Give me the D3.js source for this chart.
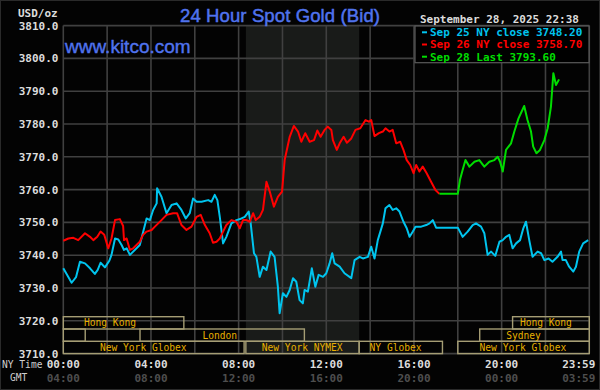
<!DOCTYPE html>
<html>
<head>
<meta charset="utf-8">
<script src="https://cdn.jsdelivr.net/npm/d3@7"></script>
<style>
  body { margin: 0; background: #000; }
  svg { display: block; }
</style>
</head>
<body>
<svg id="chart" width="600" height="390"></svg>
<script>
// price ticks (USD/oz) and time ticks (hours, NY time)
const priceTicks = d3.range(3710, 3811, 10);
const gridHours = d3.range(0, 25, 2);
const labelHours = [0, 4, 8, 12, 16, 20, 24];
const nyLabels = ["00:00", "04:00", "08:00", "12:00", "16:00", "20:00", "23:59"];
const gmtLabels = ["04:00", "08:00", "12:00", "16:00", "20:00", "00:00", "03:59"];

// [hour of NY day, bid]
const sep25 = [[0,3736.0],[0.38,3731.6],[0.58,3733.3],[0.76,3738.0],[0.99,3737.5],[1.22,3736.0],[1.44,3734.3],[1.57,3735.5],[1.70,3737.7],[1.90,3736.3],[2.10,3738.3],[2.20,3740.1],[2.36,3745.1],[2.51,3744.8],[2.66,3743.1],[2.77,3741.6],[2.89,3742.1],[3.04,3740.1],[3.49,3743.1],[3.80,3751.2],[3.95,3750.7],[4.10,3753.8],[4.26,3755.8],[4.28,3760.4],[4.48,3757.8],[4.71,3752.8],[4.94,3755.3],[5.17,3755.8],[5.39,3753.8],[5.59,3751.2],[5.77,3752.8],[5.92,3757.3],[6.08,3756.3],[6.31,3756.3],[6.61,3756.8],[6.76,3756.3],[6.91,3758.4],[7.03,3756.8],[7.14,3751.7],[7.29,3743.6],[7.44,3745.6],[7.67,3749.7],[7.90,3750.7],[8.13,3751.2],[8.28,3751.7],[8.46,3753.3],[8.55,3749.7],[8.70,3740.6],[8.81,3739.5],[8.96,3733.4],[9.11,3736.5],[9.27,3735.5],[9.46,3741.1],[9.64,3739.5],[9.79,3730.4],[9.87,3722.3],[10.02,3728.4],[10.18,3727.3],[10.33,3729.4],[10.48,3733.0],[10.63,3731.9],[10.78,3726.3],[10.93,3725.3],[11.01,3729.4],[11.16,3728.9],[11.34,3736.0],[11.50,3730.4],[11.65,3734.0],[11.85,3733.4],[12.00,3734.5],[12.15,3737.5],[12.27,3740.6],[12.38,3737.5],[12.61,3736.5],[12.83,3734.5],[13.14,3733.0],[13.29,3738.5],[13.52,3739.5],[13.67,3739.0],[13.90,3739.5],[14.05,3742.6],[14.20,3739.0],[14.35,3744.6],[14.58,3749.7],[14.70,3754.3],[14.88,3755.3],[15.03,3753.8],[15.19,3754.3],[15.34,3753.3],[15.52,3750.2],[15.67,3748.2],[15.80,3745.6],[15.95,3747.2],[16.07,3748.7],[16.33,3748.7],[16.56,3749.2],[16.71,3749.7],[16.86,3750.7],[17.01,3748.4],[18.00,3748.4],[18.22,3745.6],[18.45,3747.2],[18.68,3749.2],[18.83,3749.7],[19.06,3748.7],[19.21,3746.7],[19.36,3740.1],[19.52,3741.1],[19.71,3739.8],[19.90,3744.1],[20.05,3744.6],[20.20,3745.6],[20.35,3746.2],[20.50,3742.1],[20.66,3743.6],[20.84,3744.6],[20.99,3748.2],[21.11,3750.2],[21.26,3744.6],[21.41,3739.5],[21.64,3741.1],[21.80,3740.6],[21.95,3738.5],[22.14,3739.0],[22.32,3738.0],[22.55,3739.5],[22.71,3741.1],[22.78,3738.5],[22.93,3738.5],[23.08,3736.5],[23.27,3735.0],[23.39,3736.5],[23.54,3741.1],[23.72,3743.6],[23.95,3744.6]];

const sep26 = [[0,3744.4],[0.23,3745.1],[0.46,3745.3],[0.68,3744.6],[0.99,3746.7],[1.22,3745.6],[1.37,3744.6],[1.55,3745.6],[1.70,3747.2],[1.87,3746.2],[2.05,3742.1],[2.20,3745.1],[2.36,3750.7],[2.58,3751.0],[2.73,3748.9],[2.77,3744.6],[2.89,3745.1],[3.04,3741.6],[3.19,3742.1],[3.34,3743.1],[3.49,3744.1],[3.64,3746.2],[3.80,3747.2],[4.03,3747.7],[4.18,3748.7],[4.33,3749.7],[4.48,3750.7],[4.71,3752.3],[5.01,3752.8],[5.19,3752.8],[5.39,3749.2],[5.62,3747.7],[5.85,3748.7],[6.08,3751.7],[6.27,3752.3],[6.46,3749.2],[6.68,3746.7],[6.83,3743.8],[6.99,3744.1],[7.14,3745.1],[7.29,3747.2],[7.44,3749.2],[7.67,3750.7],[7.90,3750.2],[8.05,3748.2],[8.20,3750.7],[8.36,3750.7],[8.51,3750.2],[8.66,3752.8],[8.78,3750.7],[8.96,3751.7],[9.11,3753.8],[9.27,3762.4],[9.42,3759.4],[9.61,3754.8],[9.79,3757.8],[9.98,3759.4],[10.10,3769.0],[10.33,3776.1],[10.52,3779.4],[10.71,3777.7],[10.86,3774.6],[11.04,3777.2],[11.24,3774.6],[11.44,3775.1],[11.59,3778.0],[11.74,3776.1],[11.92,3778.2],[12.07,3779.2],[12.23,3778.2],[12.30,3775.1],[12.48,3772.1],[12.61,3774.1],[12.79,3776.1],[12.94,3774.3],[13.14,3775.6],[13.33,3778.2],[13.55,3778.7],[13.79,3781.2],[13.94,3780.7],[14.05,3781.2],[14.20,3776.3],[14.40,3777.2],[14.58,3777.7],[14.70,3778.7],[14.88,3777.7],[15.03,3778.2],[15.19,3774.1],[15.37,3774.6],[15.52,3772.1],[15.67,3769.0],[15.83,3767.5],[15.98,3765.0],[16.10,3767.5],[16.25,3765.5],[16.40,3767.0],[16.58,3765.0],[16.78,3762.4],[16.98,3759.9],[17.16,3758.7]];

const sep28 = [[17.16,3758.7],[18.00,3758.7],[18.10,3763.0],[18.22,3766.0],[18.35,3769.0],[18.53,3767.0],[18.76,3768.5],[18.98,3769.0],[19.21,3767.0],[19.44,3768.5],[19.67,3769.0],[19.82,3770.0],[19.93,3768.5],[20.05,3765.5],[20.20,3772.1],[20.43,3774.1],[20.58,3777.7],[20.77,3781.7],[21.03,3785.5],[21.18,3781.2],[21.34,3777.7],[21.44,3773.1],[21.59,3771.1],[21.75,3772.1],[21.95,3775.1],[22.10,3778.7],[22.25,3785.3],[22.36,3795.5],[22.48,3791.9],[22.62,3793.6]];

const legendLabels = ["Sep 25 NY close 3748.20", "Sep 26 NY close 3758.70", "Sep 28 Last 3793.60"];
const seriesColors = ["#00c4ee", "#ff0000", "#00dd00"];

// trading sessions: row, start hour, end hour, name, hour where the name sits
const sessions = [
  [0, 0, 5.5, "Hong Kong", 2.13],
  [0, 20.5, 24, "Hong Kong", 22.02],
  [1, 0, 1, "", 0.5],
  [1, 3.5, 11, "London", 7.14],
  [1, 19, 24, "Sydney", 21.0],
  [2, 0, 8.25, "New York Globex", 3.65],
  [2, 8.33, 13.5, "New York NYMEX", 10.9],
  [2, 13.5, 17.3, "NY Globex", 15.16],
  [2, 18, 24, "New York Globex", 20.97]
];
const pitHours = [8.33, 13.5];

const mono = "'DejaVu Sans Mono', monospace";
const svg = d3.select("#chart");

const x = d3.scaleLinear().domain([0, 24]).range([63.3, 589.3]);
const y = d3.scaleLinear().domain([3710, 3810]).range([353.6, 25.6]);

svg.append("rect").attr("width", 600).attr("height", 390).attr("fill", "#030303");
svg.append("rect").attr("x", 0.5).attr("y", 0.5).attr("width", 599).attr("height", 389)
  .attr("fill", "none").attr("stroke", "#2a2a2a");

// shaded pit session
svg.append("rect")
  .attr("x", x(pitHours[0])).attr("y", y(3810))
  .attr("width", x(pitHours[1]) - x(pitHours[0]))
  .attr("height", y(3710) - y(3810))
  .attr("fill", "#191b19");

// grid
svg.append("g").selectAll("line").data(priceTicks).enter().append("line")
  .attr("x1", x(0)).attr("x2", x(24))
  .attr("y1", d => y(d)).attr("y2", d => y(d))
  .attr("stroke", "#404040").attr("stroke-width", 1.6);
svg.append("g").selectAll("line").data(gridHours).enter().append("line")
  .attr("x1", d => x(d)).attr("x2", d => x(d))
  .attr("y1", y(3810)).attr("y2", y(3710))
  .attr("stroke", "#404040").attr("stroke-width", 1.6);

// sessions
const rowH = 12.3;
const rowTop = r => y(3710) - (3 - r) * rowH;
const sess = svg.append("g");
sess.selectAll("rect").data(sessions).enter().append("rect")
  .attr("x", d => x(d[1])).attr("y", d => rowTop(d[0]))
  .attr("width", d => x(d[2]) - x(d[1])).attr("height", rowH)
  .attr("fill", "none").attr("stroke", "#a59d74").attr("stroke-width", 1.4);
sess.selectAll("text").data(sessions).enter().append("text")
  .attr("x", d => x(d[4])).attr("y", d => rowTop(d[0]) + rowH / 2)
  .attr("dy", "0.36em").attr("text-anchor", "middle")
  .attr("font-family", mono).attr("font-size", 9.6).attr("fill", "#e8b000")
  .text(d => d[3]);

// price lines
const line = d3.line().x(d => x(d[0])).y(d => y(d[1]));
[sep25, sep26, sep28].forEach((s, i) => {
  svg.append("path").attr("d", line(s))
    .attr("fill", "none").attr("stroke", seriesColors[i])
    .attr("stroke-width", 2).attr("stroke-linejoin", "round");
});

// y labels
svg.append("g").selectAll("text").data(priceTicks).enter().append("text")
  .attr("x", 58.5).attr("y", d => y(d)).attr("dy", "0.36em")
  .attr("text-anchor", "end").attr("font-family", mono).attr("font-weight", "bold")
  .attr("font-size", 11).attr("fill", "#dcdcdc")
  .text(d => d3.format(".1f")(d));

// x labels
const xl = svg.append("g");
labelHours.forEach((h, i) => {
  const last = i === labelHours.length - 1;
  const px = last ? x(h) + 6 : x(h);
  xl.append("text").attr("x", px).attr("y", 368)
    .attr("text-anchor", last ? "end" : "middle")
    .attr("font-family", mono).attr("font-weight", "bold").attr("font-size", 11)
    .attr("fill", "#dcdcdc").text(nyLabels[i]);
  xl.append("text").attr("x", px).attr("y", 381.5)
    .attr("text-anchor", last ? "end" : "middle")
    .attr("font-family", mono).attr("font-weight", "bold").attr("font-size", 11)
    .attr("fill", "#4e4e4e").text(gmtLabels[i]);
});
svg.append("text").attr("x", 2).attr("y", 368).attr("font-family", mono)
  .attr("font-size", 9.6).attr("fill", "#cfcfcf").text("NY Time");
svg.append("text").attr("x", 10).attr("y", 381).attr("font-family", mono)
  .attr("font-size", 9.6).attr("fill", "#cfcfcf").text("GMT");
svg.append("text").attr("x", 18).attr("y", 17).attr("font-family", mono)
  .attr("font-weight", "bold").attr("font-size", 11).attr("fill", "#dcdcdc").text("USD/oz");

// titles
svg.append("text").attr("x", 180).attr("y", 21.5)
  .attr("font-family", "'Liberation Sans', Arial, sans-serif").attr("font-size", 18.5)
  .attr("textLength", 200).attr("lengthAdjust", "spacing")
  .attr("fill", "#5073ee").attr("stroke", "#5073ee").attr("stroke-width", 0.5)
  .text("24 Hour Spot Gold (Bid)");
svg.append("text").attr("x", 65).attr("y", 52.5)
  .attr("font-family", "'Liberation Sans', Arial, sans-serif").attr("font-size", 19)
  .attr("fill", "#5073ee").attr("stroke", "#5073ee").attr("stroke-width", 0.4)
  .text("www.kitco.com");
svg.append("text").attr("x", 420).attr("y", 23)
  .attr("font-family", mono).attr("font-weight", "bold").attr("font-size", 11)
  .attr("fill", "#dcdcdc").text("September 28, 2025 22:38");

// legend
const lg = svg.append("g");
lg.append("rect").attr("x", 415).attr("y", 26).attr("width", 174).attr("height", 36.7)
  .attr("fill", "#000").attr("stroke", "#5a5a5a").attr("stroke-width", 1.2);
legendLabels.forEach((t, i) => {
  const cy = 32.3 + i * 12.2;
  lg.append("line").attr("x1", 422).attr("x2", 427).attr("y1", cy).attr("y2", cy)
    .attr("stroke", seriesColors[i]).attr("stroke-width", 2);
  lg.append("text").attr("x", 430).attr("y", cy).attr("dy", "0.36em")
    .attr("font-family", mono).attr("font-weight", "bold").attr("font-size", 11)
    .attr("fill", seriesColors[i]).text(t);
});
</script>
</body>
</html>
